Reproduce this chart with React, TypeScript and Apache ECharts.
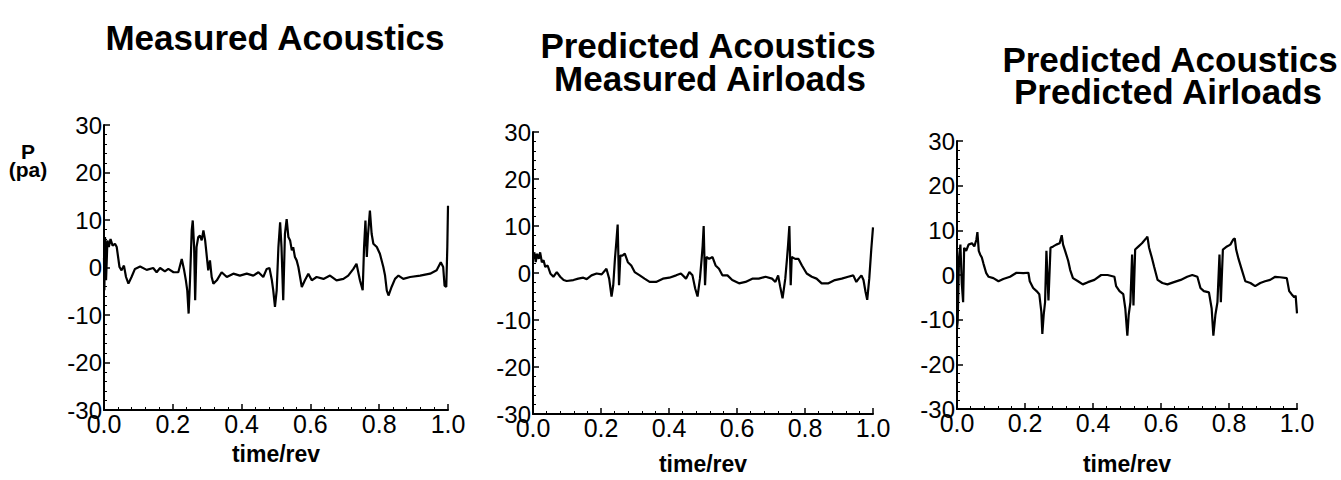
import React, { useEffect, useRef } from "react";
import * as echarts from "echarts";

// ---------- Data ----------
const X_TICKS = [0, 0.2, 0.4, 0.6, 0.8, 1.0];
const Y_TICKS = [-30, -20, -10, 0, 10, 20, 30];

const TITLES_1 = ["Measured Acoustics"];
const TITLES_2 = ["Predicted Acoustics", "Measured Airloads"];
const TITLES_3 = ["Predicted Acoustics", "Predicted Airloads"];

// Panel 1: Measured Acoustics
const MEAS_T = [0.0, 0.001, 0.003, 0.006, 0.01, 0.014, 0.019, 0.025, 0.032, 0.037, 0.045, 0.051, 0.058, 0.064, 0.071, 0.08, 0.09, 0.105, 0.124, 0.143, 0.153, 0.163, 0.177, 0.187, 0.202, 0.216, 0.226, 0.233, 0.238, 0.242, 0.246, 0.25, 0.255, 0.258, 0.262, 0.265, 0.269, 0.274, 0.279, 0.284, 0.289, 0.294, 0.298, 0.303, 0.308, 0.313, 0.318, 0.328, 0.342, 0.357, 0.376, 0.395, 0.415, 0.434, 0.449, 0.463, 0.473, 0.481, 0.488, 0.492, 0.497, 0.502, 0.507, 0.512, 0.516, 0.521, 0.526, 0.531, 0.536, 0.541, 0.546, 0.55, 0.555, 0.56, 0.565, 0.575, 0.584, 0.594, 0.604, 0.618, 0.638, 0.657, 0.676, 0.696, 0.71, 0.725, 0.734, 0.744, 0.752, 0.756, 0.76, 0.764, 0.767, 0.773, 0.778, 0.783, 0.793, 0.802, 0.812, 0.817, 0.822, 0.827, 0.836, 0.846, 0.856, 0.87, 0.89, 0.919, 0.948, 0.967, 0.979, 0.986, 0.99, 0.995, 0.998, 1.0];
const MEAS_P = [2.0, -4.8, 6.4, -2.7, 5.7, 4.3, 6.0, 4.6, 5.0, 4.3, 0.1, -0.6, 0.4, -2.0, -3.4, -2.0, -0.3, 0.2, -0.5, -0.1, -1.0, -0.1, -0.8, -0.3, -1.0, -1.0, 1.8, -0.6, -2.7, -4.8, -9.7, -2.7, 7.8, 9.9, 4.3, -6.9, 4.3, 6.4, 6.7, 5.7, 7.8, 5.7, 2.9, -0.6, 1.5, -2.0, -3.4, -2.7, -1.0, -2.0, -1.3, -1.7, -1.3, -1.7, -1.0, -2.0, -0.3, -0.1, -2.7, -4.8, -8.3, -4.8, 4.3, 9.5, 4.3, -6.9, 7.1, 10.2, 6.4, 5.7, 3.6, 4.3, 2.2, 1.5, 0.1, -4.1, -2.7, -1.3, -2.7, -2.0, -2.4, -1.7, -2.7, -2.4, -1.7, -0.3, 0.8, -2.7, -4.8, 4.3, 9.9, 2.2, 6.4, 12.0, 7.1, 5.0, 4.3, 2.9, 0.1, -1.7, -4.8, -5.9, -4.1, -2.4, -1.7, -2.4, -2.0, -1.7, -1.3, -0.6, 1.1, 0.1, -3.8, -4.1, 4.3, 13.0];

// Panel 2: Predicted Acoustics, Measured Airloads
const PMA_T = [0.0, 0.004, 0.008, 0.012, 0.017, 0.021, 0.026, 0.031, 0.036, 0.043, 0.051, 0.06, 0.07, 0.08, 0.09, 0.099, 0.119, 0.133, 0.148, 0.158, 0.172, 0.187, 0.202, 0.216, 0.224, 0.231, 0.236, 0.241, 0.245, 0.249, 0.253, 0.257, 0.263, 0.27, 0.279, 0.289, 0.299, 0.314, 0.328, 0.343, 0.362, 0.382, 0.401, 0.421, 0.435, 0.45, 0.46, 0.469, 0.477, 0.484, 0.491, 0.496, 0.499, 0.502, 0.506, 0.51, 0.518, 0.528, 0.537, 0.547, 0.557, 0.572, 0.586, 0.606, 0.625, 0.645, 0.664, 0.684, 0.703, 0.713, 0.721, 0.727, 0.734, 0.742, 0.747, 0.75, 0.754, 0.758, 0.761, 0.771, 0.781, 0.791, 0.805, 0.82, 0.834, 0.849, 0.869, 0.888, 0.908, 0.927, 0.942, 0.951, 0.958, 0.966, 0.972, 0.978, 0.983, 0.989, 0.995, 1.0];
const PMA_P = [3.0, 4.4, 2.3, 4.1, 3.0, 4.4, 2.3, 2.7, 1.3, 1.6, -0.1, -0.8, 0.2, -0.8, -1.5, -1.7, -1.5, -1.2, -1.0, -1.3, -0.5, -0.1, -0.3, 0.9, -1.2, -5.0, -2.6, 3.0, 6.5, 10.3, -2.6, 3.7, 3.7, 4.1, 2.3, 1.6, 0.2, -0.5, -1.2, -1.9, -1.9, -1.2, -1.0, -0.5, -0.1, -1.2, 0.2, -0.5, -3.3, -5.0, -1.2, 3.0, 5.8, 10.0, -2.6, 3.4, 3.0, 3.4, 1.6, 0.9, -0.5, -0.5, -1.5, -2.2, -1.9, -1.2, -1.2, -0.8, -1.2, -1.9, -0.5, -2.9, -5.4, -1.2, 3.0, 5.8, 10.0, -2.6, 3.4, 3.0, 3.0, 1.6, -0.1, -0.8, -1.2, -2.2, -2.2, -1.5, -1.2, -0.8, -0.5, -1.9, -1.2, -0.5, -1.5, -4.0, -5.7, -1.2, 5.1, 9.7];

// Panel 3: Predicted Acoustics, Predicted Airloads
const PPA_T = [0.0, 0.002, 0.006, 0.01, 0.014, 0.018, 0.021, 0.027, 0.034, 0.044, 0.051, 0.057, 0.06, 0.064, 0.068, 0.073, 0.078, 0.086, 0.093, 0.107, 0.122, 0.136, 0.156, 0.175, 0.195, 0.21, 0.214, 0.224, 0.234, 0.242, 0.248, 0.251, 0.255, 0.259, 0.263, 0.269, 0.275, 0.283, 0.292, 0.302, 0.308, 0.312, 0.318, 0.327, 0.333, 0.341, 0.356, 0.37, 0.385, 0.404, 0.424, 0.443, 0.463, 0.468, 0.478, 0.489, 0.495, 0.501, 0.505, 0.51, 0.515, 0.519, 0.524, 0.534, 0.544, 0.556, 0.56, 0.565, 0.573, 0.58, 0.59, 0.604, 0.619, 0.638, 0.658, 0.677, 0.692, 0.707, 0.716, 0.726, 0.741, 0.749, 0.754, 0.76, 0.766, 0.772, 0.776, 0.782, 0.794, 0.804, 0.812, 0.817, 0.821, 0.828, 0.838, 0.848, 0.863, 0.877, 0.892, 0.906, 0.921, 0.936, 0.95, 0.97, 0.977, 0.984, 0.992, 0.996, 1.0];
const PPA_P = [-12.0, -10.4, 3.9, 6.8, -1.8, -6.1, 6.1, 5.4, 6.8, 7.1, 6.4, 7.9, 9.6, 5.4, 4.6, 3.9, 2.5, 0.4, -0.4, -0.7, -1.4, -0.9, -0.4, 0.5, 0.4, 0.5, -1.4, -2.9, -3.6, -4.3, -8.2, -13.2, -8.9, -6.1, 5.4, -5.7, 6.1, 6.4, 6.8, 7.1, 8.9, 6.8, 5.4, 3.2, 1.1, -0.7, -1.4, -2.1, -1.6, -1.1, 0.0, 0.0, -0.4, -2.5, -3.6, -4.3, -7.5, -13.6, -8.9, -6.1, 4.6, -6.8, 5.7, 6.4, 7.1, 8.2, 8.6, 6.1, 3.9, 1.8, -1.1, -1.8, -2.1, -1.6, -1.1, -0.4, 0.0, -0.4, -2.9, -3.6, -3.9, -7.5, -13.6, -8.9, -6.1, 4.6, -6.1, 5.7, 6.4, 6.8, 7.9, 8.2, 5.7, 3.6, 1.1, -1.4, -1.8, -2.5, -1.8, -1.4, -1.1, -0.4, -0.5, -0.7, -3.6, -4.3, -5.0, -4.6, -8.6];

const FONT = '"Liberation Sans", Arial, Helvetica, sans-serif';

const pairs = (t: number[], p: number[]) => t.map((v, i) => [v, p[i]]);

const GRIDS = [
  { left: 104, top: 125, width: 344, height: 285 },
  { left: 533, top: 132, width: 340, height: 284 },
  { left: 957, top: 141, width: 340, height: 282 },
];
const NAME_GAPS = [32, 38, 43];

export default function App() {
  const ref = useRef<HTMLDivElement>(null);
  useEffect(() => {
    if (!ref.current) return;
    const chart = echarts.init(ref.current, undefined, { renderer: "svg" });
    const xAxis = GRIDS.map((_, i) => ({
      type: "value",
      gridIndex: i,
      min: X_TICKS[0],
      max: X_TICKS[X_TICKS.length - 1],
      interval: X_TICKS[1] - X_TICKS[0],
      name: "time/rev",
      nameLocation: "middle",
      nameGap: NAME_GAPS[i],
      nameTextStyle: { color: "#000", fontSize: 23, fontWeight: "bold", fontFamily: FONT },
      axisLine: { show: true, onZero: false, lineStyle: { color: "#000", width: 2 } },
      axisTick: { show: true, inside: true, length: 6, lineStyle: { color: "#000", width: 1.5 } },
      minorTick: { show: true, splitNumber: 5, length: 3, lineStyle: { color: "#000", width: 1 } },
      splitLine: { show: false },
      axisLabel: {
        color: "#000",
        fontSize: 25,
        fontFamily: FONT,
        margin: 1,
        formatter: (v: number) => v.toFixed(1),
      },
    }));
    const yAxis = GRIDS.map((_, i) => ({
      type: "value",
      gridIndex: i,
      min: Y_TICKS[0],
      max: Y_TICKS[Y_TICKS.length - 1],
      interval: Y_TICKS[1] - Y_TICKS[0],
      axisLine: { show: true, onZero: false, lineStyle: { color: "#000", width: 2 } },
      axisTick: { show: true, inside: true, length: 6, lineStyle: { color: "#000", width: 1.5 } },
      minorTick: { show: true, splitNumber: 5, length: 3, lineStyle: { color: "#000", width: 1 } },
      splitLine: { show: false },
      axisLabel: { color: "#000", fontSize: 24, fontFamily: FONT, margin: 2 },
    }));
    const lineSeries = (data: number[][], i: number) => ({
      type: "line",
      xAxisIndex: i,
      yAxisIndex: i,
      data,
      showSymbol: false,
      symbol: "none",
      lineStyle: { color: "#000", width: 2.2 },
      clip: false,
    });
    const titleText = (text: string, x: number, y: number) => ({
      type: "text",
      x,
      y,
      style: {
        text,
        fill: "#000",
        font: `bold 35px ${FONT}`,
        align: "center",
        verticalAlign: "middle",
      },
    });
    chart.setOption({
      animation: false,
      backgroundColor: "#fff",
      grid: GRIDS,
      xAxis,
      yAxis,
      series: [
        lineSeries(pairs(MEAS_T, MEAS_P), 0),
        lineSeries(pairs(PMA_T, PMA_P), 1),
        lineSeries(pairs(PPA_T, PPA_P), 2),
      ],
      graphic: [
        titleText(TITLES_1[0], 275, 37),
        titleText(TITLES_2[0], 708, 45),
        titleText(TITLES_2[1], 710, 78),
        titleText(TITLES_3[0], 1170, 59),
        titleText(TITLES_3[1], 1168, 91),
        {
          type: "text",
          x: 28,
          y: 151,
          style: { text: "P", fill: "#000", font: `bold 21px ${FONT}`, align: "center", verticalAlign: "middle" },
        },
        {
          type: "text",
          x: 28,
          y: 169,
          style: { text: "(pa)", fill: "#000", font: `bold 21px ${FONT}`, align: "center", verticalAlign: "middle" },
        },
      ],
    });
    return () => chart.dispose();
  }, []);
  return (
    <div
      ref={ref}
      style={{ position: "absolute", left: 0, top: 0, width: 1341, height: 480, background: "#fff" }}
    />
  );
}
